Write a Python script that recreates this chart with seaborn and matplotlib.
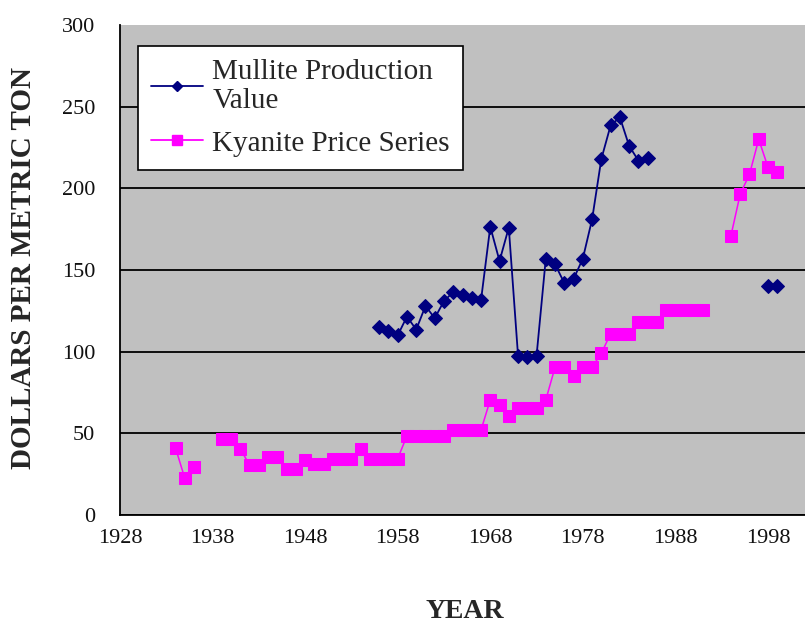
import numpy as np
import pandas as pd
import matplotlib
matplotlib.use("Agg")
import matplotlib.pyplot as plt
from matplotlib.lines import Line2D
import seaborn as sns

# values (dollars per metric ton)
mullite_years = list(range(1956, 1986)) + [1998, 1999]
mullite_values = [115, 112.5, 110, 121.5, 113.5, 128, 120.5, 131, 136.5, 134.5,
                  133, 131.5, 176.5, 155.5, 176, 97.5, 96.5, 97.5, 157, 153.5,
                  142, 144.5, 157, 181, 218, 238.5, 243.5, 226, 217, 218.5,
                  140.5, 140.5]

kyanite_years = [1934, 1935, 1936] + list(range(1939, 1992)) + list(range(1994, 2000))
kyanite_values = [41, 22.5, 29.5,
                  46.5, 46.5, 40.5, 30.5, 30.5, 35.5, 35.5, 28, 28, 33.5,
                  31, 31, 34.5, 34.5, 34.5, 40.5, 34.5, 34.5, 34.5, 34.5,
                  48.5, 48.5, 48.5, 48.5, 48.5, 52, 52, 52, 52,
                  70.5, 67.5, 60.5, 65.5, 65.5, 65.5, 70.5, 90.5, 90.5, 85,
                  90.5, 90.5, 99, 111, 111, 111, 118, 118, 118,
                  125.5, 125.5, 125.5, 125.5, 125.5,
                  171, 196.5, 208.5, 230, 213, 210]

xtick_pos = list(range(1928, 1999, 5))
ytick_pos = [0, 50, 100, 150, 200, 250, 300]

series_names = ["Mullite Production\nValue", "Kyanite Price Series"]
navy = "#000080"
magenta = "#FF00FF"


def to_frame(years, values):
    df = pd.DataFrame({"year": years, "value": values})
    # a missing year breaks the line, like the blank cells in the original sheet
    df["seg"] = (df["year"].diff() > 1).cumsum()
    return df


mullite = to_frame(mullite_years, mullite_values)
kyanite = to_frame(kyanite_years, kyanite_values)

sns.set_style("white")
plt.rcParams["font.family"] = ["Liberation Serif", "DejaVu Serif"]

fig = plt.figure(figsize=(8.05, 6.26), dpi=100)
ax = fig.add_axes([120 / 805, 111 / 626, 685 / 805, 490 / 626])
ax.set_facecolor("#C0C0C0")

sns.lineplot(data=mullite, x="year", y="value", units="seg", estimator=None,
             color=navy, marker="D", markersize=7, markeredgecolor=navy,
             linewidth=1.3, legend=False, ax=ax)
sns.lineplot(data=kyanite, x="year", y="value", units="seg", estimator=None,
             color=magenta, marker="s", markersize=9, markeredgecolor=magenta,
             linewidth=1.1, legend=False, ax=ax)

ax.set_xlim(1928, 2002)
ax.set_ylim(0, 300)
ax.set_xticks(xtick_pos)
ax.set_xticklabels([str(y) if i % 2 == 0 else "" for i, y in enumerate(xtick_pos)])
ax.set_yticks(ytick_pos)
ax.tick_params(axis="both", direction="out", length=6, width=1.2,
               color="black", labelsize=16, labelcolor="#111111")
ax.tick_params(axis="x", pad=4)
ax.tick_params(axis="y", pad=12)
ax.set_xlabel("")
ax.set_ylabel("")

ax.set_axisbelow(True)
ax.yaxis.grid(True, color="black", linewidth=1.3)
ax.xaxis.grid(False)
ax.yaxis.get_gridlines()[-1].set_visible(False)

for side in ["top", "right"]:
    ax.spines[side].set_visible(False)
for side in ["left", "bottom"]:
    ax.spines[side].set_color("black")
    ax.spines[side].set_linewidth(1.3)

handles = [
    Line2D([], [], color=navy, marker="D", markersize=5, lw=1.3),
    Line2D([], [], color=magenta, marker="s", markersize=7, lw=1.3),
]
leg = ax.legend(handles, series_names, loc="upper left",
                bbox_to_anchor=(0.026, 0.957), borderaxespad=0,
                frameon=True, fancybox=False, framealpha=1,
                edgecolor="black", fontsize=21, handlelength=1.8,
                handletextpad=0.3, borderpad=0.45, labelspacing=0.55)
leg.get_frame().set_linewidth(1.2)
for t in leg.get_texts():
    t.set_linespacing(1.15)

fig.text(24 / 805, 1 - 268 / 626, "DOLLARS PER METRIC TON", rotation=90,
         ha="center", va="center", fontsize=21, fontweight="bold")
fig.text(465 / 805, 1 - 611 / 626, "YEAR", ha="center", va="center",
         fontsize=20, fontweight="bold")

fig.savefig("out.png", dpi=100, facecolor="white")
